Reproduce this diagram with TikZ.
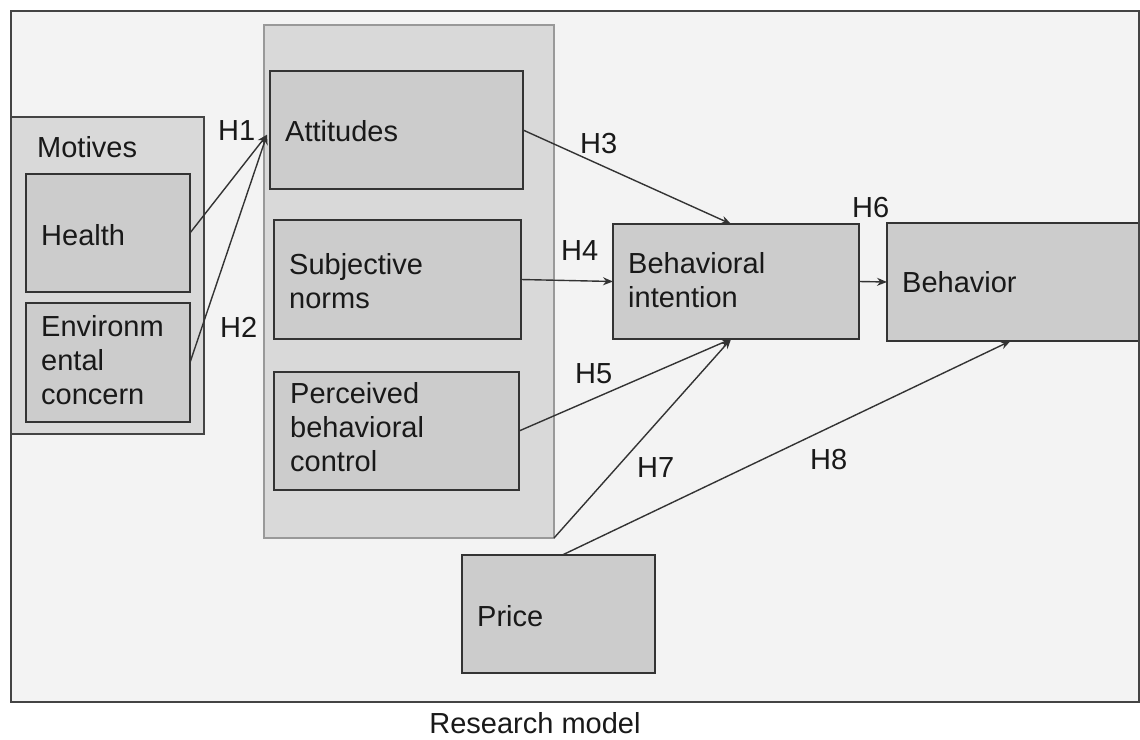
\documentclass[tikz,border=0pt]{standalone}
\usepackage{fontspec}
\setmainfont{Liberation Sans}
\usetikzlibrary{arrows.meta,calc}
\definecolor{bg}{HTML}{F3F3F3}
\definecolor{panelfill}{HTML}{D9D9D9}
\definecolor{boxfill}{HTML}{CCCCCC}
\definecolor{edgecol}{HTML}{333333}
\definecolor{paneledge}{HTML}{999999}
\definecolor{framecol}{HTML}{444444}
\begin{document}
\begin{tikzpicture}[x=1pt,y=-1pt,
  box/.style={draw=edgecol, fill=boxfill, line width=1.6pt, anchor=north west, inner sep=0pt, outer sep=0pt},
  group/.style={draw=framecol, fill=panelfill, line width=1.6pt, anchor=north west, inner sep=0pt, outer sep=0pt},
  panel/.style={draw=paneledge, fill=panelfill, line width=1.3pt, anchor=north west, inner sep=0pt, outer sep=0pt},
  txt/.style={anchor=north west, inner sep=0pt, align=left, text=black!90, font=\fontsize{29}{34}\selectfont, execute at begin node={\rule{0pt}{23pt}}},
  hlab/.style={anchor=base west, inner sep=0pt, text=black!90, font=\fontsize{29}{34}\selectfont},
  conn/.style={draw=edgecol, line width=1.4pt, -{Stealth[length=10pt,width=8pt]}}
]
\useasboundingbox (0,0) rectangle (1140,739);
\fill[white] (0,0) rectangle (1140,739);
% outer frame
\node[anchor=north west, fill=bg, inner sep=0pt, outer sep=0pt, minimum width=1128pt, minimum height=691pt] (frame) at (11,11) {};
% middle panel
\node[panel, minimum width=290pt, minimum height=513pt] (panel) at (264,25) {};
% motives group
\node[group, minimum width=193pt, minimum height=317pt] (motives) at (11,117) {};
% boxes
\node[box, minimum width=164pt, minimum height=118pt] (health) at (26,174) {};
\node[box, minimum width=164pt, minimum height=119pt] (env) at (26,303) {};
\node[box, minimum width=253pt, minimum height=118pt] (att) at (270,71) {};
\node[box, minimum width=247pt, minimum height=119pt] (sn) at (274,220) {};
\node[box, minimum width=245pt, minimum height=118pt] (pbc) at (274,372) {};
\node[box, minimum width=246pt, minimum height=115pt] (bi) at (613,224) {};
\node[box, minimum width=252pt, minimum height=118pt] (beh) at (887,223) {};
\node[box, minimum width=193pt, minimum height=118pt] (price) at (462,555) {};
% frame border on top
\draw[framecol, line width=2.5pt] (frame.north west) rectangle (frame.south east);
% texts
\node[txt] (tmot) at (37,134) {Motives};
\node[txt] (thealth) at (41,222) {Health};
\node[txt] (tenv) at (41,315) {Environm\\ental\\concern};
\node[txt] (tatt) at (285,118) {Attitudes};
\node[txt] (tsn) at (289,253) {Subjective\\norms};
\node[txt] (tpbc) at (290,382) {Perceived\\behavioral\\control};
\node[txt] (tbi) at (628,252) {Behavioral\\intention};
\node[txt] (tbeh) at (902,269) {Behavior};
\node[txt] (tprice) at (477,603) {Price};
% connectors
\coordinate (attin) at ($(att.north west)!0.54!(att.south west)+(-3,0)$);
\coordinate (bitop) at ($(bi.north west)!0.48!(bi.north east)$);
\coordinate (bibot) at ($(bi.south west)!0.48!(bi.south east)$);
\coordinate (pricetop) at ($(price.north west)!0.52!(price.north east)$);
\coordinate (behbot) at ($(beh.south west)!0.49!(beh.south east)$);
\draw[conn] (health.east) -- (attin);
\draw[conn] (env.east) -- (attin);
\draw[conn] (att.east) -- (bitop);
\draw[conn] (sn.east) -- (bi.west);
\draw[conn] (pbc.east) -- (bibot);
\draw[conn] (panel.south east) -- (bibot);
\draw[conn] (bi.east) -- (beh.west);
\draw[conn] (pricetop) -- (behbot);
% labels
\node[hlab] (h1) at (218,140) {H1};
\node[hlab] (h2) at (220,337) {H2};
\node[hlab] (h3) at (580,153) {H3};
\node[hlab] (h4) at (561,260) {H4};
\node[hlab] (h5) at (575,383) {H5};
\node[hlab] (h6) at (852,217) {H6};
\node[hlab] (h7) at (637,477) {H7};
\node[hlab] (h8) at (810,469) {H8};
\node[anchor=base, inner sep=0pt, text=black!90, font=\fontsize{29}{34}\selectfont] (cap) at (535,733) {Research model};
\end{tikzpicture}
\end{document}
